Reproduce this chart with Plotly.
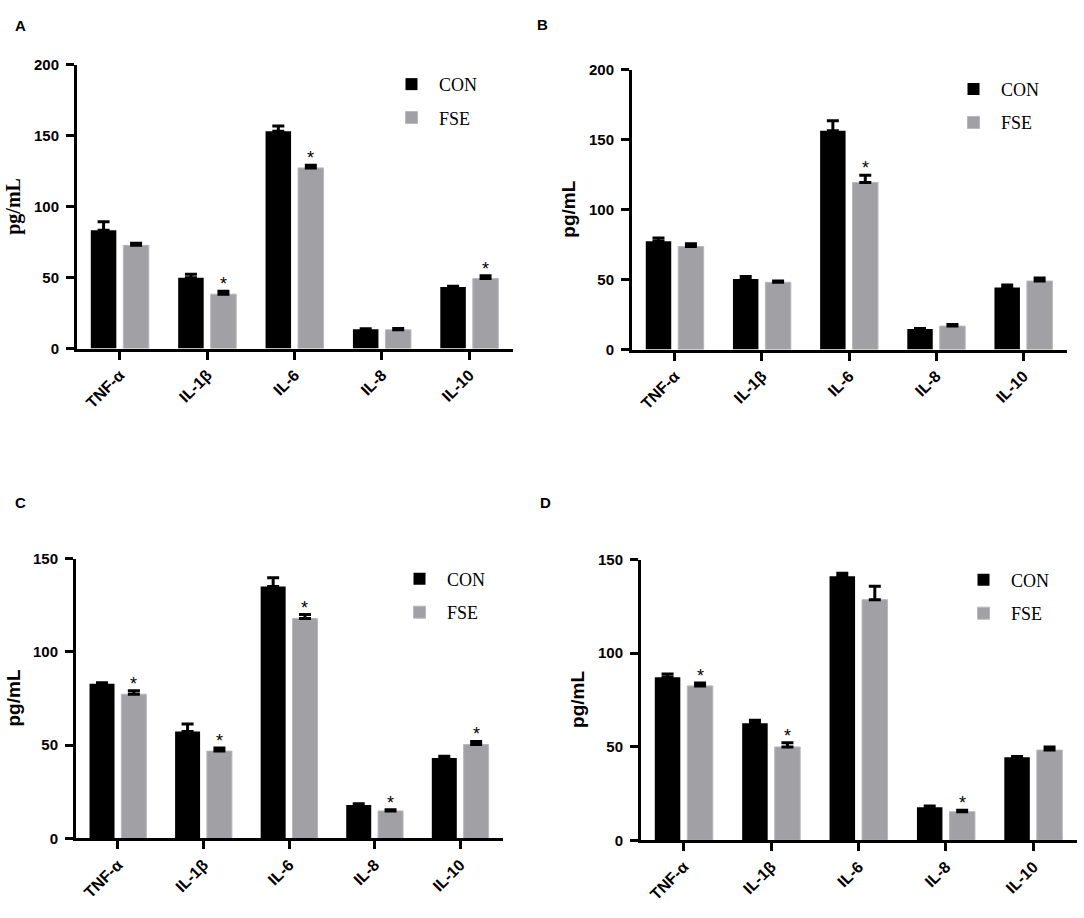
import plotly.graph_objects as go

W, H = 1084, 918

cytokines = ["TNF-α", "IL-1β", "IL-6", "IL-8", "IL-10"]

# panel A
a_con = [83.5, 49.9, 153.3, 13.6, 43.5]
a_con_err = [6.0, 2.5, 3.7, 0.4, 0.5]
a_fse = [72.8, 38.4, 127.4, 13.2, 49.5]
a_fse_err = [1.4, 2.0, 1.8, 0.9, 1.8]
a_sig = [False, True, True, False, True]

# panel B
b_con = [77.5, 50.4, 156.4, 14.7, 44.3]
b_con_err = [2.3, 1.9, 7.2, 0.3, 1.9]
b_fse = [73.7, 48.1, 119.5, 16.8, 49.0]
b_fse_err = [1.9, 1.0, 5.1, 1.2, 2.1]
b_sig = [False, False, True, False, False]

# panel C
c_con = [82.9, 57.3, 135.1, 17.9, 43.1]
c_con_err = [0.5, 4.0, 4.6, 0.7, 0.9]
c_fse = [77.3, 46.8, 117.9, 14.7, 50.3]
c_fse_err = [1.9, 1.6, 2.1, 0.6, 1.7]
c_sig = [True, True, True, True, True]

# panel D
d_con = [87.2, 62.5, 141.1, 17.7, 44.4]
d_con_err = [1.7, 1.7, 1.6, 0.7, 0.4]
d_fse = [82.5, 49.9, 128.6, 15.3, 48.2]
d_fse_err = [1.6, 2.3, 7.1, 0.7, 1.7]
d_sig = [True, True, False, True, False]

panels = [
    # label, data, y max, axis box in px (left, right, top, bottom), title font, legend pos px
    ("A", a_con, a_con_err, a_fse, a_fse_err, a_sig, 200, (77, 513, 57, 346), "Liberation Serif", (384, 58)),
    ("B", b_con, b_con_err, b_fse, b_fse_err, b_sig, 200, (632, 1067, 62, 347), "Liberation Sans", (946, 63)),
    ("C", c_con, c_con_err, c_fse, c_fse_err, c_sig, 150, (76, 503, 560, 845), "Liberation Sans", (392, 562)),
    ("D", d_con, d_con_err, d_fse, d_fse_err, d_sig, 150, (641, 1077, 561, 847), "Liberation Sans", (956, 563)),
]
label_pos = [(20, 17), (542, 16), (20, 503), (545, 503)]

BARGAP = 0.256
GROUPGAP = 0.215
fse_shift = (1 - BARGAP) / 4  # centre of second bar in a group

tickfont = dict(family="Liberation Sans", size=15, color="black", weight="bold")

fig = go.Figure()
annotations = []

for k, (lab, con, con_err, fse, fse_err, sig, ymax, box, tfont, lpos) in enumerate(panels):
    n = "" if k == 0 else str(k + 1)
    xa, ya = "x" + n, "y" + n
    leg = "legend" + n
    left, right, top, bottom = box

    fig.add_trace(go.Bar(
        x=cytokines, y=con, name="CON", xaxis=xa, yaxis=ya, legend=leg,
        legendgroup=lab + "con",
        marker=dict(color="black", line=dict(color="black", width=0)),
        error_y=dict(type="data", array=con_err, arrayminus=[0] * len(con),
                     symmetric=False, color="black", thickness=3, width=6),
    ))
    fig.add_trace(go.Bar(
        x=cytokines, y=fse, name="FSE", xaxis=xa, yaxis=ya, legend=leg,
        legendgroup=lab + "fse",
        marker=dict(color="#A0A0A5", line=dict(color="#B8B8BC", width=1)),
        error_y=dict(type="data", array=fse_err, arrayminus=[0] * len(fse),
                     symmetric=False, color="black", thickness=3, width=6),
    ))

    # significance stars above FSE error bars
    for i, s in enumerate(sig):
        if s:
            annotations.append(dict(
                x=i + fse_shift, y=fse[i] + fse_err[i], xref=xa, yref=ya,
                text="*", showarrow=False, yanchor="bottom", yshift=-5,
                font=dict(family="Liberation Sans", size=18, color="black"),
            ))

    xdom = [left / W, right / W]
    ydom = [1 - bottom / H, 1 - top / H]
    ax = dict(
        domain=xdom, anchor=ya, type="category", range=[-0.49, 4.5],
        showline=True, linewidth=3, linecolor="black", mirror=False,
        ticks="outside", ticklen=8, tickwidth=2.5, tickcolor="black",
        tickangle=-45, tickfont=dict(family="Liberation Sans", size=16, color="black", weight="bold"),
        showgrid=False, zeroline=False,
    )
    ay = dict(
        domain=ydom, anchor=xa, range=[0, ymax], tickvals=list(range(0, ymax + 1, 50)),
        showline=True, linewidth=3, linecolor="black",
        ticks="outside", ticklen=8, tickwidth=2.5, tickcolor="black",
        tickfont=tickfont, ticklabelstandoff=4,
        showgrid=False, zeroline=False,
    )
    fig.layout["xaxis" + n] = ax
    fig.layout["yaxis" + n] = ay

    fig.layout[leg] = dict(
        x=lpos[0] / W, y=1 - lpos[1] / H, xanchor="left", yanchor="top",
        font=dict(family="Liberation Serif", size=18, color="black"),
        bgcolor="rgba(0,0,0,0)", borderwidth=0, tracegroupgap=7,
        itemwidth=45, itemclick=False,
    )

    # y axis title
    annotations.append(dict(
        x=-63 / (right - left), y=0.5, xref=xa + " domain", yref=ya + " domain",
        text="pg/mL", textangle=-90, showarrow=False,
        xanchor="center", yanchor="middle",
        font=dict(family=tfont, size=20 if tfont == "Liberation Serif" else 19,
                  color="black", weight="bold"),
    ))
    # panel letter
    annotations.append(dict(
        x=label_pos[k][0] / W, y=1 - label_pos[k][1] / H, xref="paper", yref="paper",
        text=lab, showarrow=False, xanchor="center", yanchor="middle",
        font=dict(family="Liberation Sans", size=15, color="black", weight="bold"),
    ))

fig.update_layout(
    width=W, height=H, margin=dict(l=0, r=0, t=0, b=0),
    paper_bgcolor="white", plot_bgcolor="white",
    barmode="group", bargap=BARGAP, bargroupgap=GROUPGAP,
    annotations=annotations, showlegend=True,
)

fig.write_html("out.html", config={"displayModeBar": False},
               post_script="document.body.style.margin = '0px';")
